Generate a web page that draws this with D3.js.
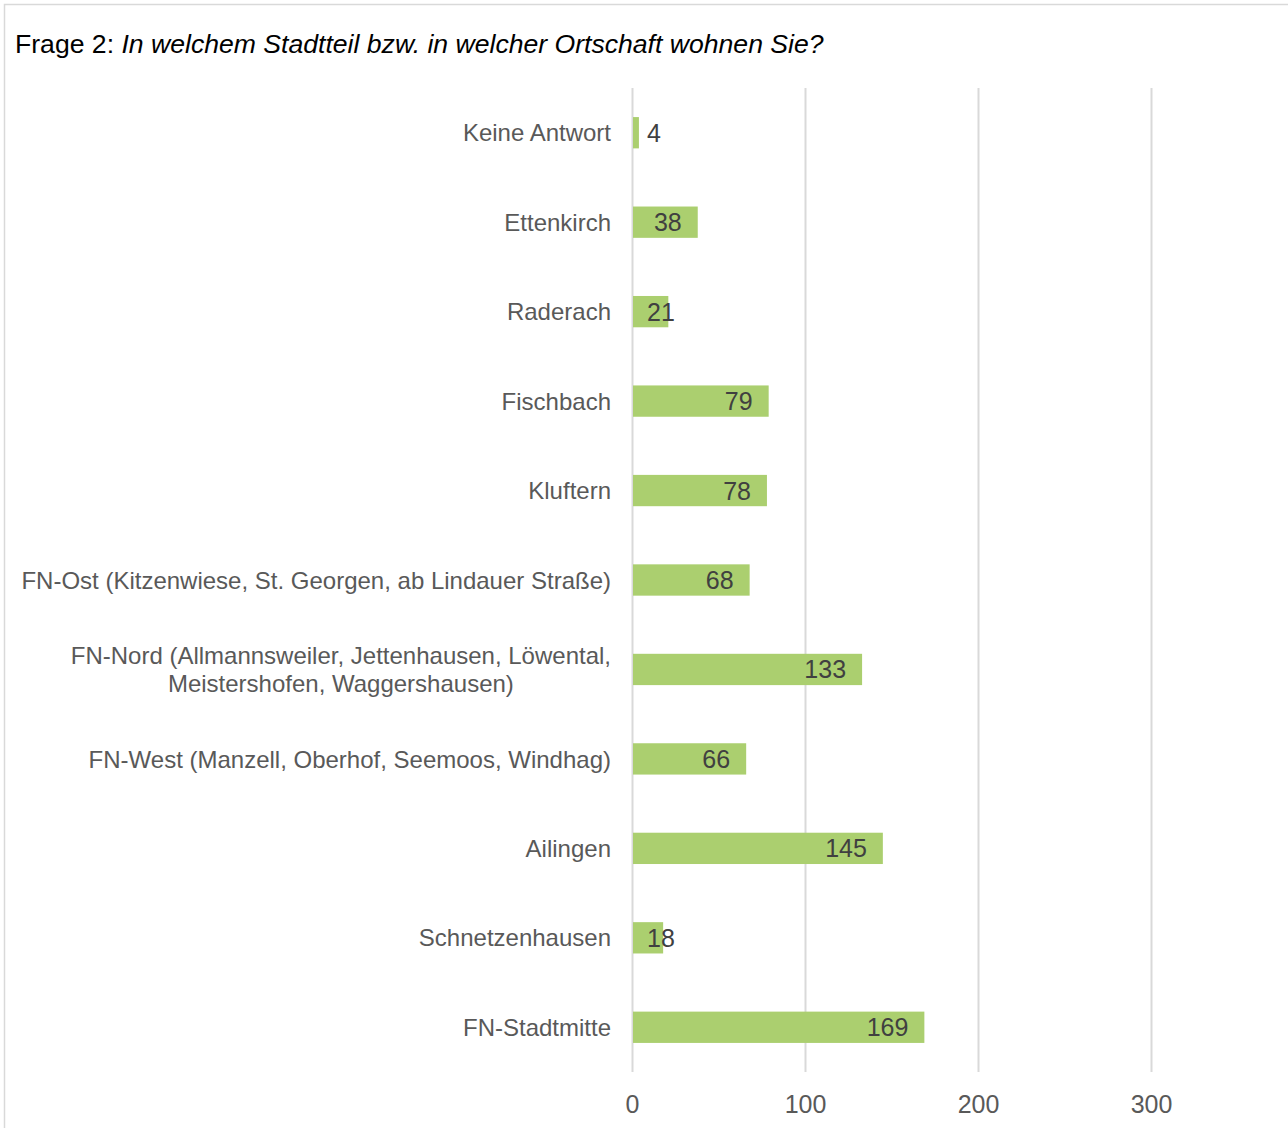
<!DOCTYPE html>
<html>
<head>
<meta charset="utf-8">
<script src="https://cdn.jsdelivr.net/npm/d3@7"></script>
<style>
  body { margin: 0; background: #fff; }
  svg { display: block; font-family: "Liberation Sans", Arial, sans-serif; }
</style>
</head>
<body>
<svg width="1288" height="1128"></svg>
<script>
var categories = [
    ["Keine Antwort"],
    ["Ettenkirch"],
    ["Raderach"],
    ["Fischbach"],
    ["Kluftern"],
    ["FN-Ost (Kitzenwiese, St. Georgen, ab Lindauer Straße)"],
    ["FN-Nord (Allmannsweiler, Jettenhausen, Löwental,", "Meistershofen, Waggershausen)"],
    ["FN-West (Manzell, Oberhof, Seemoos, Windhag)"],
    ["Ailingen"],
    ["Schnetzenhausen"],
    ["FN-Stadtmitte"]
];
var values = [4, 38, 21, 79, 78, 68, 133, 66, 145, 18, 169];
var tickValues = [0, 100, 200, 300];

var svg = d3.select("svg");

// frame (only top and left edge visible)
svg.append("rect")
    .attr("x", 4.5).attr("y", 4.5)
    .attr("width", 1400).attr("height", 1300)
    .attr("fill", "none")
    .attr("stroke", "#d9d9d9")
    .attr("stroke-width", 1.5);

// title
var title = svg.append("text")
    .attr("x", 15).attr("y", 53)
    .style("font-size", "26.6px")
    .attr("fill", "#000");
title.append("tspan").text("Frage 2: ");
title.append("tspan").style("font-style", "italic")
    .text("In welchem Stadtteil bzw. in welcher Ortschaft wohnen Sie?");

var plotTop = 88, plotBottom = 1072;
var x = d3.scaleLinear().domain([0, 350]).range([632, 632 + 3.5 * 173]);
var y = d3.scaleBand()
    .domain(d3.range(categories.length))
    .range([plotTop, plotBottom])
    .paddingInner(0.65)
    .paddingOuter(0.325);

// gridlines + ticks
var xAxis = d3.axisBottom(x)
    .tickValues(tickValues)
    .tickSize(-(plotBottom - plotTop))
    .tickPadding(0)
    .tickFormat(d3.format("d"));

var gx = svg.append("g")
    .attr("transform", "translate(0," + plotBottom + ")")
    .call(xAxis);
gx.select(".domain").remove();
gx.selectAll(".tick line").attr("stroke", "#d9d9d9").attr("stroke-width", 2);
gx.selectAll(".tick text")
    .attr("y", 41)
    .attr("dy", 0)
    .attr("fill", "#595959")
    .style("font-size", "25px")
    .style("font-family", "Liberation Sans, Arial, sans-serif");

// bars
svg.append("g").selectAll("rect")
    .data(values)
    .enter()
    .append("rect")
    .attr("x", x(0) + 1)
    .attr("y", function(d, i){ return y(i); })
    .attr("width", function(d){ return x(d) - x(0) - 1; })
    .attr("height", y.bandwidth())
    .attr("fill", "#abcf6f");

// value labels
svg.append("g").selectAll("text")
    .data(values)
    .enter()
    .append("text")
    .attr("y", function(d, i){ return y(i) + y.bandwidth() / 2; })
    .attr("dy", "0.36em")
    .attr("text-anchor", "end")
    .attr("fill", "#404040")
    .style("font-size", "25px")
    .text(function(d){ return d; })
    .attr("x", function(d){
        var w = this.getComputedTextLength();
        return Math.max(x(d) - 16, x(0) + 15 + w);
    });

// category labels
var labelRight = 611;
var lineH = 28;
categories.forEach(function(lines, i){
    var cy = y(i) + y.bandwidth() / 2;
    var t = svg.append("text")
        .attr("fill", "#595959")
        .style("font-size", "24px");
    lines.forEach(function(s, k){
        t.append("tspan")
            .attr("y", cy + (k - (lines.length - 1) / 2) * lineH)
            .attr("dy", "0.36em")
            .text(s);
    });
    var maxW = 0;
    t.selectAll("tspan").each(function(){
        maxW = Math.max(maxW, this.getComputedTextLength());
    });
    if (lines.length > 1) {
        t.attr("text-anchor", "middle");
        t.selectAll("tspan").attr("x", labelRight - maxW / 2);
    } else {
        t.attr("text-anchor", "end");
        t.selectAll("tspan").attr("x", labelRight);
    }
});
</script>
</body>
</html>
